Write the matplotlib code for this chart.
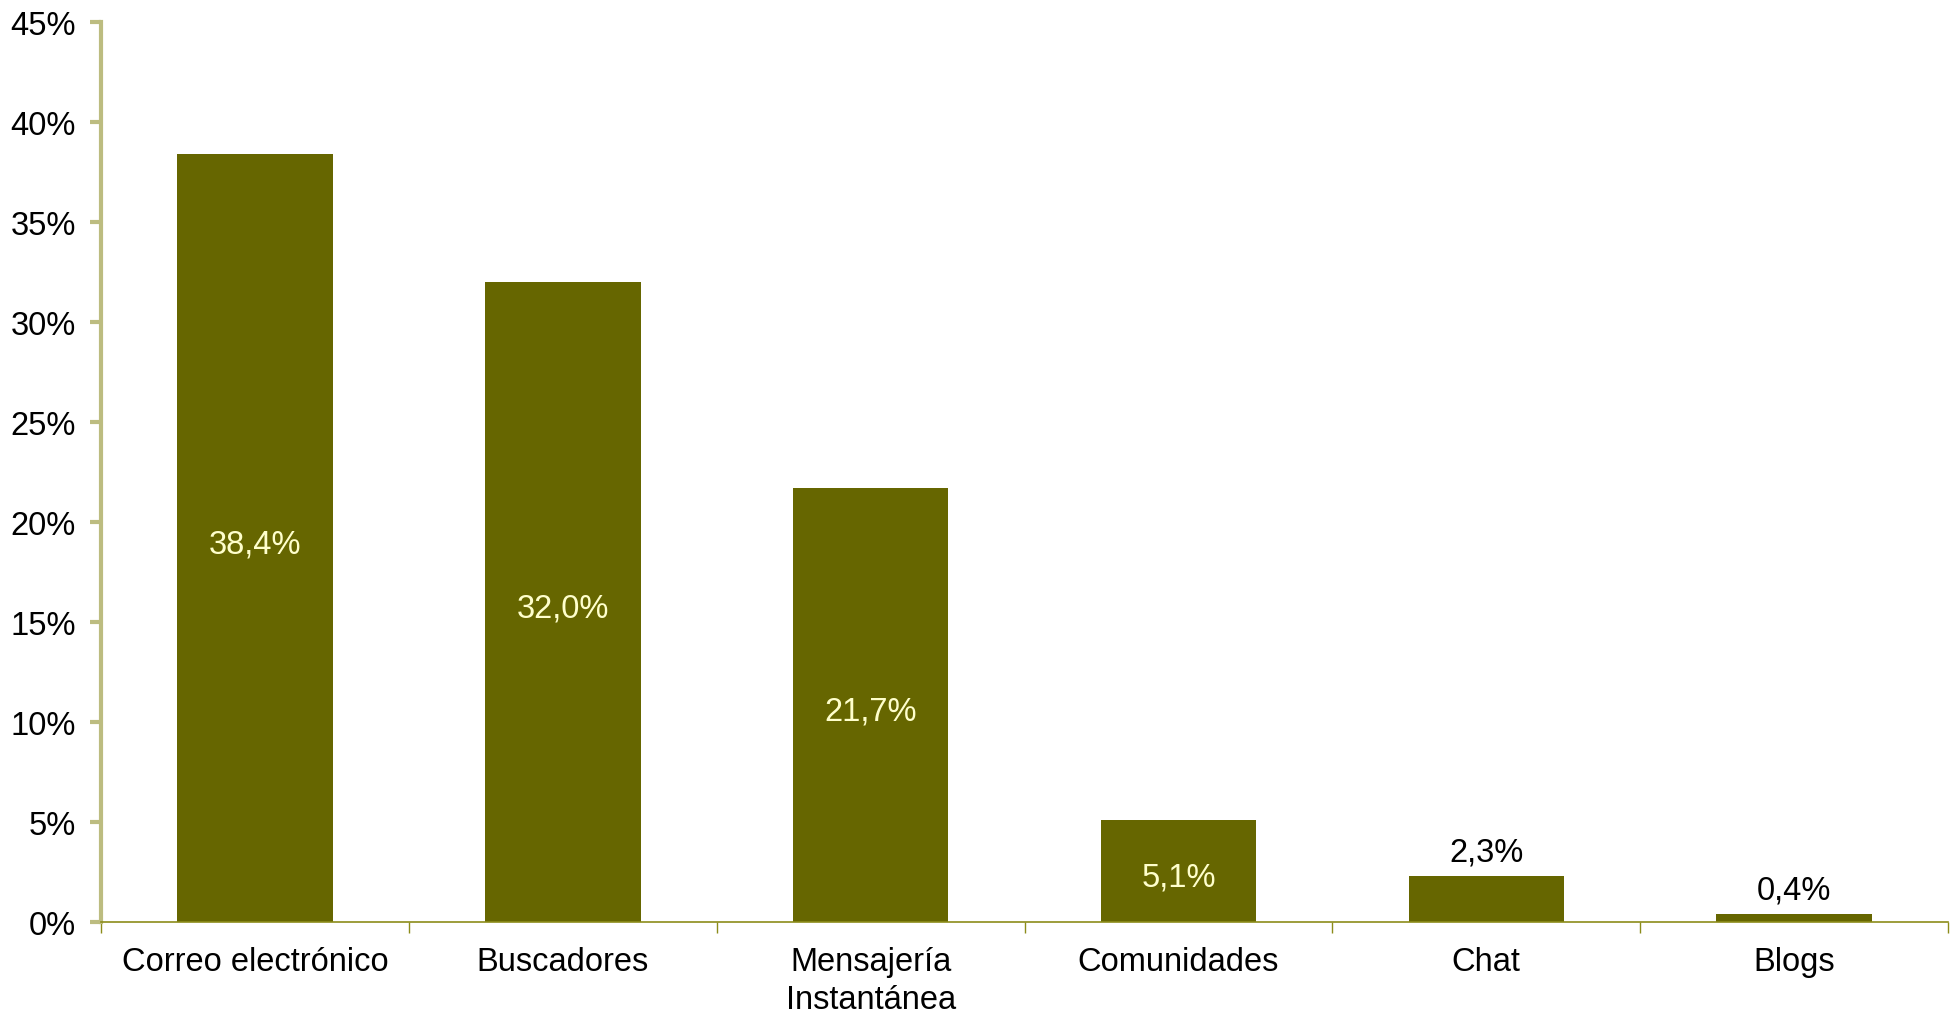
import matplotlib
matplotlib.use("Agg")
import matplotlib.pyplot as plt
import numpy as np
from matplotlib.ticker import FixedLocator, NullFormatter

categories = ["Correo electrónico", "Buscadores", "Mensajería\nInstantánea",
              "Comunidades", "Chat", "Blogs"]
values = [38.4, 32.0, 21.7, 5.1, 2.3, 0.4]
value_labels = ["38,4%", "32,0%", "21,7%", "5,1%", "2,3%", "0,4%"]
inside = [True, True, True, True, False, False]
yticks = [0, 5, 10, 15, 20, 25, 30, 35, 40, 45]
ytick_labels = ["0%", "5%", "10%", "15%", "20%", "25%", "30%", "35%", "40%", "45%"]

plt.rcParams["font.family"] = ["Liberation Sans", "DejaVu Sans"]
FS = 23.5

fig = plt.figure(figsize=(19.59, 10.20), dpi=100)
ax = fig.add_axes([0.0516, 0.0951, 0.9428, 0.8824])

x = np.arange(len(categories))
ax.bar(x, values, width=0.505, color="#666600", zorder=2)

ax.set_xlim(-0.5, len(categories) - 0.5)
ax.set_ylim(0, 45)
ax.set_yticks(yticks)
ax.set_yticklabels(ytick_labels, fontsize=FS)

ax.set_xticks(x)
ax.set_xticklabels(categories, fontsize=FS, linespacing=1.3)
ax.tick_params(axis="x", which="major", length=0, pad=17)
ax.xaxis.set_minor_locator(FixedLocator(np.arange(-0.5, len(categories), 1.0)))
ax.xaxis.set_minor_formatter(NullFormatter())
ax.tick_params(axis="x", which="minor", length=8, width=1, color="#8c8c1a", direction="out")
ax.tick_params(axis="y", length=8, width=3, color="#bcbc80", pad=10, direction="out")

for s in ["top", "right"]:
    ax.spines[s].set_visible(False)
ax.spines["left"].set_color("#bcbc80")
ax.spines["left"].set_linewidth(3)
ax.spines["bottom"].set_color("#8c8c1a")
ax.spines["bottom"].set_linewidth(1.2)

for xi, v, lab, ins in zip(x, values, value_labels, inside):
    if ins:
        ax.annotate(lab, (xi, v / 2), xytext=(0, -4), textcoords="offset points",
                    ha="center", va="center", fontsize=FS, color="#ffffcc")
    else:
        ax.annotate(lab, (xi, v), xytext=(0, 6), textcoords="offset points",
                    ha="center", va="bottom", fontsize=FS, color="black")

fig.savefig("out.png", dpi=100)
